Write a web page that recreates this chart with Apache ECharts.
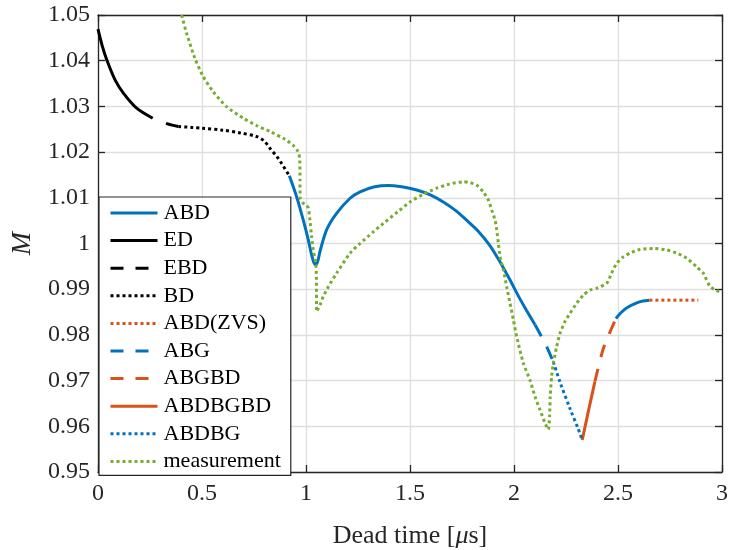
<!DOCTYPE html>
<html>
<head>
<meta charset="utf-8">
<title>Dead time vs M</title>
<script src="https://cdn.jsdelivr.net/npm/echarts@6/dist/echarts.min.js"></script>
<style>
  html, body { margin: 0; padding: 0; background: #fff; }
  #chart { width: 729px; height: 550px; }
</style>
</head>
<body>
<div id="chart"></div>
<script>
// Axis ranges and ticks
const xTicks = { min: 0, max: 3, step: 0.5 };
const yTicks = { min: 0.95, max: 1.05, step: 0.01 };

// Model curves, [dead time (us), M]
const edData = [[0, 1.0469], [0.02, 1.0433], [0.042, 1.0402], [0.082, 1.0358], [0.122, 1.0329], [0.186, 1.0296], [0.263, 1.0274]];
const ebdData = [[0.327, 1.0263], [0.356, 1.0259], [0.386, 1.0256]];
const bdData = [[0.386, 1.0256], [0.45, 1.0254], [0.5, 1.0252], [0.6, 1.0248], [0.683, 1.0242], [0.763, 1.0234], [0.8, 1.0224], [0.827, 1.0208], [0.86, 1.0190], [0.883, 1.0175], [0.92, 1.0148]];
const abdData = [
  [0.92, 1.0148], [0.955, 1.0102], [0.987, 1.0051], [1.011, 1.0008], [1.027, 0.9975], [1.038, 0.9958], [1.047, 0.9953],
  [1.057, 0.9962], [1.067, 0.9982], [1.099, 1.0030], [1.147, 1.0066], [1.212, 1.0099], [1.26, 1.0113], [1.33, 1.0124],
  [1.396, 1.0127], [1.46, 1.0124], [1.532, 1.0117], [1.6, 1.0106], [1.66, 1.0091], [1.72, 1.0072], [1.772, 1.0051],
  [1.828, 1.0027], [1.885, 0.9995], [1.935, 0.9958], [1.981, 0.9920], [2.02, 0.9886], [2.061, 0.9853], [2.101, 0.9822],
  null,
  [2.490, 0.9836], [2.515, 0.9849], [2.541, 0.9859], [2.59, 0.9870], [2.62, 0.9874], [2.651, 0.9876]
];
const abdZvsData = [[2.651, 0.9876], [2.886, 0.9876]];
const abgData = [[2.101, 0.9822], [2.15, 0.9781], [2.189, 0.9741]];
const abgbdData = [[2.389, 0.9698], [2.426, 0.9765], [2.453, 0.9797], [2.490, 0.9836]];
const abdbgbdData = [[2.328, 0.9570], [2.36, 0.9638], [2.389, 0.9698]];
const abdbgData = [[2.189, 0.9741], [2.221, 0.9697], [2.269, 0.9639], [2.309, 0.9594], [2.328, 0.9570]];

// Measured curve
const measData = [
  [0.402, 1.0500], [0.426, 1.0460], [0.466, 1.0405], [0.506, 1.0365], [0.554, 1.0332], [0.619, 1.0299], [0.699, 1.0274],
  [0.763, 1.0258], [0.827, 1.0245], [0.90, 1.0228], [0.94, 1.0214], [0.958, 1.0204], [0.966, 1.0196], [0.970, 1.0182],
  [0.971, 1.0140], [0.972, 1.0100], [0.985, 1.0089], [1.000, 1.0084], [1.011, 1.0078], [1.019, 1.0051], [1.027, 1.0015],
  [1.035, 0.9986], [1.047, 0.9957], [1.050, 0.9927], [1.051, 0.9851], [1.067, 0.9865], [1.083, 0.9884], [1.107, 0.9905],
  [1.147, 0.9935], [1.212, 0.9979], [1.26, 1.0000], [1.32, 1.0024], [1.372, 1.0044], [1.44, 1.0069], [1.5, 1.0091],
  [1.56, 1.0107], [1.628, 1.0121], [1.69, 1.0130], [1.756, 1.0135], [1.790, 1.0133], [1.820, 1.0128], [1.852, 1.0113],
  [1.877, 1.0095], [1.893, 1.0073], [1.909, 1.0051], [1.917, 1.0030], [1.925, 1.0000], [1.933, 0.9971], [1.949, 0.9942],
  [1.965, 0.9905], [1.981, 0.9869], [1.997, 0.9833], [2.013, 0.9796], [2.045, 0.9738], [2.077, 0.9701], [2.101, 0.9665],
  [2.125, 0.9636], [2.149, 0.9607], [2.165, 0.9593], [2.171, 0.9621], [2.174, 0.9665], [2.181, 0.9709], [2.189, 0.9738],
  [2.205, 0.9774], [2.221, 0.9803], [2.245, 0.9829], [2.269, 0.9847], [2.301, 0.9869], [2.333, 0.9887], [2.365, 0.9898],
  [2.397, 0.9902], [2.446, 0.9913], [2.469, 0.9935], [2.494, 0.9957], [2.526, 0.9971], [2.558, 0.9979], [2.606, 0.9987],
  [2.67, 0.9989], [2.734, 0.9986], [2.782, 0.9979], [2.830, 0.9968], [2.878, 0.9949], [2.910, 0.9935], [2.942, 0.9906],
  [2.974, 0.9897], [3.0, 0.9894]
];

const legendOrder = ['ABD', 'ED', 'EBD', 'BD', 'ABD(ZVS)', 'ABG', 'ABGBD', 'ABDBGBD', 'ABDBG', 'measurement'];

const BLUE = '#0072BD', ORANGE = '#D95319', GREEN = '#77AC30', BLACK = '#000000';
const AXIS = '#262626';
const SERIF = '"Liberation Serif", "DejaVu Serif", serif';
const DASH = [13, 12];
const DOT = [3, 3];

function curve(name, data, color, dash, smooth) {
  return {
    name: name,
    type: 'line',
    data: data,
    symbol: 'none',
    smooth: smooth,
    connectNulls: false,
    lineStyle: { color: color, width: 3, type: dash, cap: 'butt' },
    itemStyle: { color: color },
    emphasis: { disabled: true },
    animation: false
  };
}

const chart = echarts.init(document.getElementById('chart'), null, { renderer: 'canvas' });

const axisCommon = {
  axisLine: { show: true, onZero: false, lineStyle: { color: AXIS, width: 1.3 } },
  axisTick: { show: true, inside: true, length: 7, lineStyle: { color: AXIS, width: 1.3 } }
};

chart.setOption({
  animation: false,
  backgroundColor: '#ffffff',
  grid: { left: 98, right: 7, top: 15, bottom: 78, containLabel: false, outerBoundsMode: 'none' },
  legend: {
    data: legendOrder,
    orient: 'vertical',
    left: 99,
    top: 197,
    itemWidth: 47,
    itemHeight: 14,
    itemGap: 5.6,
    padding: [5, 10, 3, 10],
    backgroundColor: '#ffffff',
    borderColor: AXIS,
    borderWidth: 1.2,
    borderRadius: 0,
    selectedMode: false,
    // the line sample alone, no marker on it
    itemStyle: { opacity: 0 },
    lineStyle: { width: 3 },
    textStyle: { fontFamily: SERIF, fontSize: 22, color: '#000', lineHeight: 22, padding: [0, 0, 0, 1] }
  },
  xAxis: [
    Object.assign({}, axisCommon, {
      type: 'value', position: 'bottom',
      min: xTicks.min, max: xTicks.max, interval: xTicks.step,
      name: 'Dead time [{i|μ}s]',
      nameLocation: 'middle', nameGap: 51,
      nameTextStyle: {
        fontFamily: SERIF, fontSize: 26, color: AXIS,
        rich: { i: { fontFamily: SERIF, fontStyle: 'italic', fontSize: 26, color: AXIS } }
      },
      axisLabel: {
        fontFamily: SERIF, fontSize: 24, color: AXIS, margin: 10,
        formatter: v => String(+v.toFixed(1))
      },
      splitLine: { show: true, lineStyle: { color: '#dfdfdf', width: 1.3 } }
    }),
    Object.assign({}, axisCommon, {
      type: 'value', position: 'top',
      min: xTicks.min, max: xTicks.max, interval: xTicks.step,
      axisLabel: { show: false }, splitLine: { show: false }
    })
  ],
  yAxis: [
    Object.assign({}, axisCommon, {
      type: 'value', position: 'left',
      min: yTicks.min, max: yTicks.max, interval: yTicks.step,
      name: 'M',
      nameLocation: 'middle', nameRotate: 90, nameGap: 57,
      nameTextStyle: { fontFamily: SERIF, fontStyle: 'italic', fontSize: 28, color: AXIS },
      axisLabel: {
        fontFamily: SERIF, fontSize: 24, color: AXIS, margin: 8,
        formatter: v => String(+v.toFixed(2))
      },
      splitLine: { show: true, lineStyle: { color: '#dfdfdf', width: 1.3 } }
    }),
    Object.assign({}, axisCommon, {
      type: 'value', position: 'right',
      min: yTicks.min, max: yTicks.max, interval: yTicks.step,
      axisLabel: { show: false }, splitLine: { show: false }
    })
  ],
  series: [
    curve('ABD', abdData, BLUE, 'solid', 0.3),
    curve('ED', edData, BLACK, 'solid', 0.3),
    curve('EBD', ebdData, BLACK, DASH, 0.3),
    curve('BD', bdData, BLACK, DOT, 0.3),
    curve('ABD(ZVS)', abdZvsData, ORANGE, DOT, false),
    curve('ABG', abgData, BLUE, DASH, 0.3),
    curve('ABGBD', abgbdData, ORANGE, DASH, 0.3),
    curve('ABDBGBD', abdbgbdData, ORANGE, 'solid', 0.3),
    curve('ABDBG', abdbgData, BLUE, DOT, 0.3),
    curve('measurement', measData, GREEN, DOT, 0.2)
  ]
});
</script>
</body>
</html>
